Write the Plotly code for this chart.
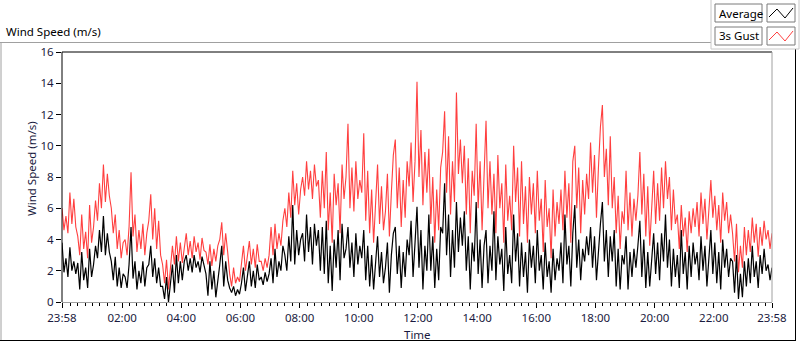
import plotly.graph_objects as go

# ---- data (4-minute steps starting 23:58) ----
gust = [
 6.0, 4.6, 5.5, 4.4, 7.0, 5.0, 6.6, 4.8,
 4.2, 3.0, 5.6, 3.4, 4.5, 2.8, 6.2, 3.8,
 4.8, 6.5, 5.2, 7.6, 6.0, 8.8, 6.4, 8.2, 6.8,
 6.0, 4.4, 5.6, 3.4, 4.6, 2.8, 3.8,
 4.0, 3.0, 4.8, 8.3, 4.2, 5.6, 3.2, 4.6, 3.4, 5.0, 3.0, 4.4,
 5.2, 6.9, 4.0, 6.0, 3.4, 5.2, 3.0,
 2.4, 1.2, 2.7, 0.8, 2.0,
 3.6, 2.4, 4.2, 2.6, 3.8, 2.5,
 3.6, 4.4, 3.0, 3.9, 2.8, 4.2, 3.2, 3.8, 2.7, 4.1, 3.3,
 3.2, 2.4, 3.7, 2.3, 3.4, 2.6, 3.6,
 4.0, 5.1, 3.0, 4.4, 3.2,
 1.8, 1.0, 2.2, 1.2, 1.6, 1.3,
 2.4, 3.6, 2.0, 3.0, 3.9, 2.4, 3.4, 2.2, 3.7, 2.6,
 2.6, 2.0, 2.8, 2.2, 3.0,
 4.8, 3.0, 5.0, 3.4, 4.4, 3.6, 5.2,
 6.0, 4.8, 7.0, 5.4, 8.4, 6.2, 7.6, 5.6, 7.2,
 8.0, 6.8, 9.0, 7.2, 8.4, 6.6, 8.8, 7.4,
 7.8, 5.4, 8.4, 6.0, 9.6, 4.6, 7.0, 3.8, 8.2, 6.2, 7.6, 4.4, 8.8, 6.6,
 8.0, 11.4, 6.0, 8.6, 5.8, 9.0, 6.6, 7.8,
 7.0, 10.8, 5.2, 8.4, 4.4, 7.2, 3.8, 6.6, 8.8, 5.0, 7.4, 4.6,
 5.8, 8.2, 4.2, 7.0, 9.4, 10.4, 6.0, 8.6, 4.8, 7.8, 5.4, 9.0,
 7.4, 10.2, 6.4, 9.0, 14.1, 8.0, 11.0, 6.2, 9.6, 7.0,
 9.8, 5.0, 8.0, 3.8, 7.2, 4.6, 8.6,
 9.6, 12.2, 7.0, 10.6, 5.6, 9.0, 6.4, 13.4, 8.2, 10.4,
 7.6, 10.0, 5.6, 9.2, 4.4, 8.4, 6.8, 11.4, 6.0, 9.0, 4.6, 8.8,
 11.6, 6.0, 9.0, 5.6,
 8.2, 4.4, 9.4, 6.0, 7.6, 3.8, 8.8, 5.2, 6.8, 4.6,
 10.0, 6.4, 8.6, 4.2, 9.0, 5.0, 7.4, 3.8, 8.0, 5.6,
 7.6, 4.4, 8.4, 5.2, 6.6, 3.2, 7.8, 4.8, 6.0, 2.8, 7.2, 4.2, 6.4, 5.0,
 7.2, 4.6, 8.4, 5.4, 7.6, 3.8, 9.0, 10.0, 6.0, 8.6, 4.4, 7.8, 5.6, 8.2,
 6.6, 10.2, 7.0, 9.4, 5.4, 8.6, 11.2, 12.6, 8.0, 9.8, 6.2, 10.6,
 6.0, 8.0, 4.4, 6.8, 3.4, 5.8,
 5.0, 8.4, 4.6, 7.0, 4.2, 6.6, 5.2,
 6.8, 9.6, 5.6, 8.2, 4.2, 7.4, 3.6, 6.4, 8.4, 5.0,
 7.6, 5.2, 8.6, 6.0, 9.0, 6.6, 8.0, 4.6, 7.2, 5.0,
 5.6, 3.4, 6.2, 4.2, 5.4, 3.2, 5.8, 4.4, 6.0, 4.8,
 6.4, 4.2, 7.0, 5.0, 6.6, 4.0, 5.8, 7.8, 5.4, 6.8, 4.6, 6.2, 3.8, 7.0, 5.2, 6.4, 4.4, 5.6,
 4.4, 2.6, 5.0, 1.9, 3.6, 2.2, 4.8, 3.0,
 4.6, 3.2, 5.4, 3.8, 5.0, 2.9, 4.8, 3.6, 5.2, 4.0, 4.6, 3.4, 4.4,
]

average = [
 3.8, 1.9, 2.8, 1.6, 3.5, 2.0, 2.6, 1.8,
 2.5, 0.8, 3.2, 1.4, 2.2, 0.9, 3.4, 1.6,
 2.4, 3.6, 2.8, 4.6, 3.2, 5.5, 3.0, 4.4, 3.2,
 2.6, 1.4, 2.9, 1.0, 2.2, 0.9, 1.8,
 1.6, 0.9, 2.4, 4.8, 1.5, 2.6, 0.8, 2.0, 1.2, 2.6, 1.0, 2.2,
 2.4, 3.6, 1.6, 2.8, 1.2, 2.2, 1.0,
 1.0, 0.2, 1.6, 0.0, 1.2,
 2.4, 0.6, 3.0, 1.2, 2.6, 1.4,
 2.6, 3.0, 2.0, 2.8, 1.9, 3.0, 2.2, 2.6, 1.9, 2.9, 2.4,
 1.8, 0.4, 2.6, 0.8, 2.0, 0.3, 1.6,
 2.4, 3.6, 1.0, 2.6, 1.4,
 0.9, 0.6, 1.0, 0.4, 0.8, 0.5,
 1.2, 2.2, 0.7, 1.8, 2.6, 1.0, 2.0, 0.9, 2.4, 1.4,
 1.6, 1.1, 1.9, 1.3, 1.8,
 2.8, 1.2, 3.4, 1.6, 2.6, 2.0, 3.6,
 3.0, 2.0, 4.2, 2.6, 6.2, 2.4, 4.6, 3.0, 4.0,
 4.4, 2.6, 5.6, 3.2, 4.8, 2.4, 5.0, 3.6,
 4.6, 2.0, 4.8, 1.8, 5.2, 1.2, 3.6, 0.7, 4.0, 2.2, 4.6, 1.4, 5.0, 2.8,
 3.4, 4.8, 2.2, 3.8, 1.6, 4.4, 2.4, 3.6,
 2.8, 4.6, 1.4, 3.6, 1.0, 3.0, 0.8, 2.6, 4.2, 1.6, 3.2, 1.2,
 2.2, 3.8, 0.6, 3.0, 4.4, 4.8, 1.8, 3.6, 0.9, 3.2, 1.6, 4.0,
 3.0, 5.2, 1.6, 3.8, 6.1, 2.2, 4.6, 0.8, 3.6, 2.0,
 5.6, 2.0, 4.2, 0.9, 3.4, 1.4, 4.8,
 4.4, 7.6, 3.0, 5.6, 1.6, 4.6, 2.2, 6.4, 3.2, 5.4,
 3.6, 5.8, 2.0, 4.2, 0.8, 3.8, 2.6, 6.4, 1.8, 4.0, 0.9, 3.6,
 4.6, 1.2, 3.6, 2.0,
 5.8, 1.4, 4.2, 2.4, 3.4, 0.7, 4.8, 1.8, 3.0, 1.2,
 5.6, 2.6, 4.4, 1.0, 3.8, 1.6, 3.2, 0.6, 4.0, 2.2,
 3.6, 1.2, 4.6, 2.0, 3.0, 0.8, 3.8, 1.6, 2.6, 0.6, 3.4, 1.4, 2.8, 2.0,
 3.8, 1.2, 5.6, 2.4, 3.6, 1.0, 4.4, 6.2, 2.2, 4.0, 1.4, 3.4, 2.6, 4.2,
 3.0, 4.8, 2.2, 4.2, 1.4, 3.6, 5.0, 6.4, 2.6, 4.6, 1.6, 4.2,
 2.6, 4.6, 1.0, 3.4, 0.8, 3.0,
 2.4, 4.2, 0.8, 3.2, 1.6, 3.4, 2.2,
 3.6, 5.2, 1.6, 4.0, 0.9, 3.2, 1.0, 2.6, 4.4, 1.8,
 3.8, 1.4, 4.4, 2.6, 5.6, 2.2, 4.0, 1.0, 3.4, 1.6,
 3.0, 0.9, 4.6, 1.8, 3.2, 0.8, 3.6, 1.6, 3.8, 2.4,
 3.2, 1.4, 4.2, 2.0, 3.6, 1.0, 3.0, 4.6, 1.8, 3.8, 1.2, 3.2, 0.8, 4.0, 2.2, 3.4, 1.6, 2.8,
 2.6, 0.6, 3.0, 0.2, 1.8, 0.3, 2.6, 1.0,
 2.8, 1.2, 3.6, 1.6, 2.6, 0.9, 3.0, 1.8, 3.4, 2.0, 2.4, 1.4, 2.2,
]

step_min = 4
minutes_gust = [i * step_min for i in range(len(gust))]
minutes_avg = [i * step_min for i in range(len(average))]

tick_minutes = [0, 122, 242, 362, 482, 602, 722, 842, 962, 1082, 1202, 1322, 1440]
tick_labels = ["23:58", "02:00", "04:00", "06:00", "08:00", "10:00", "12:00",
               "14:00", "16:00", "18:00", "20:00", "22:00", "23:58"]
minor_minutes = [m for m in range(2, 1440, 15) if m not in tick_minutes]
y_ticks = [0, 2, 4, 6, 8, 10, 12, 14, 16]

FONT = "Noto Sans"
W, H = 800, 342
L, R, T, B = 62, 772, 52, 302


def px(x):
    return (x - L) / (R - L)


def py(y):
    return (B - y) / (B - T)


fig = go.Figure()
fig.add_trace(go.Scatter(x=minutes_gust, y=gust, mode="lines", name="3s Gust",
                         line=dict(color="#ff3f3f", width=1.1)))
fig.add_trace(go.Scatter(x=minutes_avg, y=average, mode="lines", name="Average",
                         line=dict(color="#000000", width=1.2)))

shapes = []


def line(x0, y0, x1, y1, color, width=1):
    shapes.append(dict(type="line", xref="paper", yref="paper",
                       x0=px(x0), y0=py(y0), x1=px(x1), y1=py(y1),
                       line=dict(color=color, width=width)))


# outer frame
line(0, 42.5, 711, 42.5, "#a0a0a0")
line(1, 42.5, 1, 340.5, "#a0a0a0")
line(0, 340.5, 796, 340.5, "#000000")
line(795.5, 49, 795.5, 341, "#000000")
# legend panel outline
line(711, 0, 711, 49, "#c8c8c8")
line(711, 49, 799, 49, "#c8c8c8")
line(799, 0, 799, 49, "#c8c8c8")
# plot area frame
line(L, T, R, T, "#000000")
line(L, T, L, B, "#000000")
line(L, B + 0.5, R, B + 0.5, "#a0a0a0")
line(R, T, R, B, "#a0a0a0")

# legend boxes
annotations = []
for i, (label, col) in enumerate([("Average", "#000000"), ("3s Gust", "#ff3f3f")]):
    y0 = 4 + i * 23
    y1 = y0 + 18
    shapes.append(dict(type="rect", xref="paper", yref="paper",
                       x0=px(715), x1=px(762), y0=py(y1), y1=py(y0),
                       line=dict(color="#7a7a7a", width=1), fillcolor="white"))
    shapes.append(dict(type="rect", xref="paper", yref="paper",
                       x0=px(767), x1=px(795), y0=py(y1), y1=py(y0),
                       line=dict(color="#7a7a7a", width=1), fillcolor="white"))
    pts = [(769, y0 + 13), (777, y0 + 5), (785, y0 + 14), (793, y0 + 4)]
    path = "M " + " L ".join(f"{px(a)},{py(b)}" for a, b in pts)
    shapes.append(dict(type="path", xref="paper", yref="paper", path=path,
                       line=dict(color=col, width=1)))
    annotations.append(dict(x=px(717), y=py(y0 + 9), xref="paper", yref="paper",
                            text=label, showarrow=False, xanchor="left", yanchor="middle",
                            font=dict(family=FONT, size=11.5, color="#000000")))

annotations.append(dict(x=px(4), y=py(32), xref="paper", yref="paper",
                        text="Wind Speed (m/s)", showarrow=False, xanchor="left",
                        yanchor="middle", font=dict(family=FONT, size=11.5, color="#000000")))
annotations.append(dict(x=px(31), y=py(169), xref="paper", yref="paper",
                        text="Wind Speed (m/s)", showarrow=False, textangle=-90,
                        xanchor="center", yanchor="middle",
                        font=dict(family=FONT, size=11.5, color="#1a1a40")))
annotations.append(dict(x=px(417), y=py(334), xref="paper", yref="paper",
                        text="Time", showarrow=False, xanchor="center", yanchor="middle",
                        font=dict(family=FONT, size=11.5, color="#1a1a40")))

fig.update_layout(
    width=W, height=H,
    margin=dict(l=L, r=W - R, t=T, b=H - B, pad=0),
    paper_bgcolor="white", plot_bgcolor="white",
    showlegend=False,
    shapes=shapes, annotations=annotations,
    font=dict(family=FONT, size=11.5, color="#1a1a40"),
    xaxis=dict(range=[0, 1440], tickmode="array", tickvals=tick_minutes,
               ticktext=tick_labels, ticks="outside", ticklen=5, tickcolor="#000000",
               tickwidth=1, showgrid=False, zeroline=False, showline=False,
               minor=dict(tickmode="array", tickvals=minor_minutes, ticks="outside",
                          ticklen=3, tickcolor="#000000", showgrid=False),
               tickfont=dict(family=FONT, size=11.5, color="#1a1a40")),
    yaxis=dict(range=[0, 16], tickmode="array", tickvals=y_ticks, ticks="outside",
               ticklen=5, tickcolor="#000000", showgrid=False, zeroline=False,
               showline=False, tickfont=dict(family=FONT, size=11.5, color="#1a1a40")),
)

fig.write_html("out.html",
               config={"displayModeBar": False},
               post_script="document.body.style.margin='0';document.body.style.overflow='hidden';")
